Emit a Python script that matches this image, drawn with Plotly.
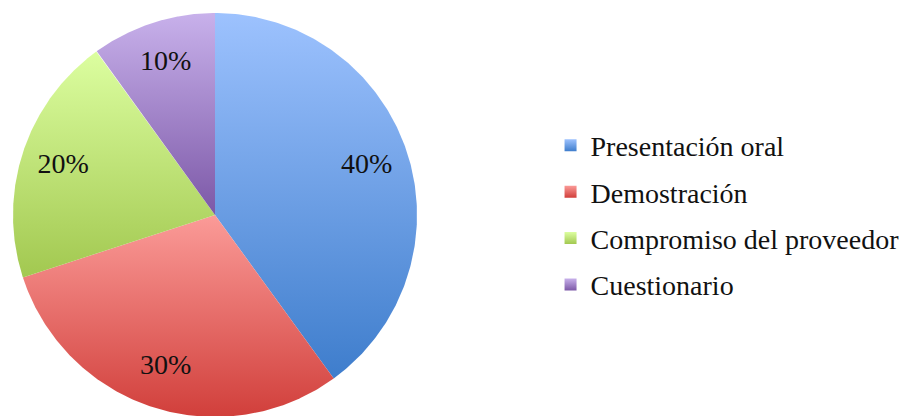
import numpy as np
import plotly.graph_objects as go

# Share of each evaluation method (%)
categories = ["Presentación oral", "Demostración", "Compromiso del proveedor", "Cuestionario"]
values = [40, 30, 20, 10]

# Vertical gradient per slice: (bottom colour, top colour)
gradients = [
    ("#3E7DCC", "#9DC2FE"),
    ("#D13F3B", "#FB9B98"),
    ("#A2C850", "#DCFEA0"),
    ("#7C58A7", "#C8B1EB"),
]

FONT = "Liberation Serif, Cambria, serif"
FONT_SIZE = 28

fig = go.Figure()

total = float(sum(values))
start = 0.0  # degrees, clockwise from 12 o'clock
for name, val, (dark, light) in zip(categories, values, gradients):
    sweep = 360.0 * val / total
    theta = np.radians(np.linspace(start, start + sweep, 200))
    xs = np.concatenate([[0.0], np.sin(theta), [0.0]])
    ys = np.concatenate([[0.0], np.cos(theta), [0.0]])
    fig.add_trace(go.Scatter(
        x=xs, y=ys, mode="lines", fill="toself",
        line=dict(width=0, color=light),
        fillgradient=dict(type="vertical", colorscale=[[0, dark], [1, light]]),
        hoverinfo="skip", showlegend=False,
    ))
    # legend swatch
    fig.add_trace(go.Scatter(
        x=[None], y=[None], mode="markers", name=name,
        marker=dict(symbol="square", size=13, color=light,
                    gradient=dict(type="vertical", color=dark),
                    line=dict(width=0)),
        legendgroup=name,
    ))
    start += sweep

# Percentage labels along each slice's middle angle
mids = np.radians(np.cumsum(values) / total * 360.0 - np.array(values) / total * 180.0)
label_r = 0.79
fig.add_trace(go.Scatter(
    x=label_r * np.sin(mids), y=label_r * np.cos(mids),
    mode="text", text=[f"{v}%" for v in values],
    textfont=dict(family=FONT, size=FONT_SIZE, color="#111111"),
    hoverinfo="skip", showlegend=False,
))

W, H = 907, 416
R_PX = 202.0
CX, CY = 215.0, 215.0  # pie centre in pixels (from top-left)

fig.update_layout(
    width=W, height=H,
    margin=dict(l=0, r=0, t=0, b=0, autoexpand=False),
    paper_bgcolor="white", plot_bgcolor="white",
    xaxis=dict(range=[-CX / R_PX, (W - CX) / R_PX], visible=False, fixedrange=True),
    yaxis=dict(range=[-(H - CY) / R_PX, CY / R_PX], visible=False, fixedrange=True),
    legend=dict(
        x=0.607, y=0.483, xanchor="left", yanchor="middle",
        font=dict(family=FONT, size=FONT_SIZE, color="#111111"),
        tracegroupgap=7, itemsizing="constant",
        bgcolor="rgba(0,0,0,0)",
    ),
    showlegend=True,
)

fig.write_html("out.html")
